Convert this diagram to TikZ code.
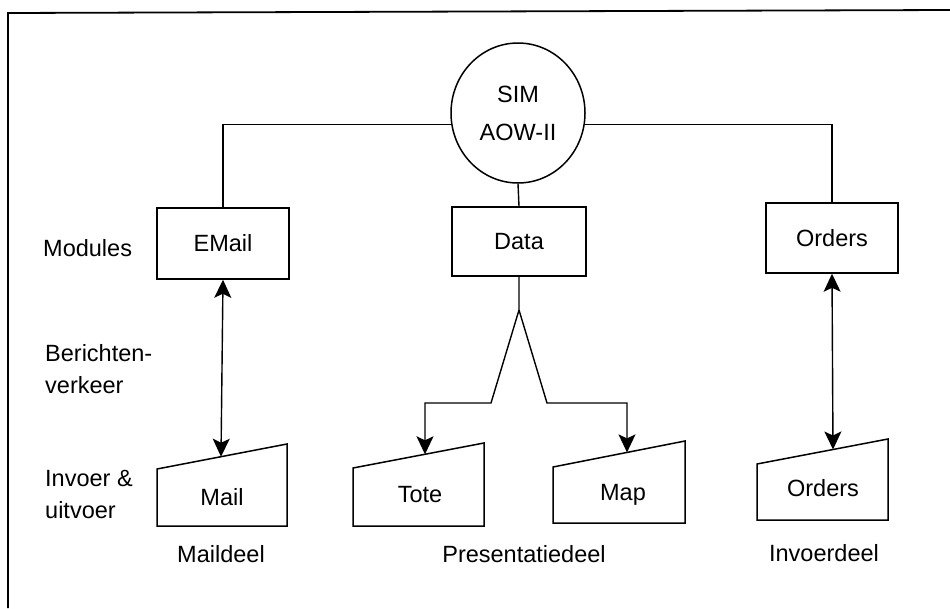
\documentclass[tikz,border=0pt]{standalone}
\usepackage{fontspec}
\setmainfont{Liberation Sans}
\usetikzlibrary{shapes.geometric,arrows.meta,calc}
\begin{document}
\begin{tikzpicture}[x=1pt,y=-1pt,
  txt/.style={font=\fontsize{23.5}{32}\selectfont, inner sep=0pt},
  modbox/.style={draw, line width=1.5pt, rectangle, inner sep=0pt, font=\fontsize{23.5}{32}\selectfont},
  simcircle/.style={draw, line width=1.5pt, ellipse, inner sep=0pt, minimum width=134pt, minimum height=140pt, align=center, font=\fontsize{23.5}{38}\selectfont},
  conn/.style={line width=1.4pt},
  arrowone/.style={line width=1.4pt, -{Stealth[length=18pt,width=17pt,inset=4pt]}},
  arrowtwo/.style={line width=1.4pt, {Stealth[length=18pt,width=17pt,inset=4pt]}-{Stealth[length=18pt,width=17pt,inset=4pt]}},
  shapeline/.style={line width=1.5pt}
]
\useasboundingbox (0,0) rectangle (950,608);
\fill[white] (0,0) rectangle (950,608);
% frame
\draw[line width=1.8pt] (8,608) -- (8,13) -- (950,10);

% central node
\node[simcircle] (sim) at (518,113) {SIM\\AOW-II};

% module boxes
\node[modbox, minimum width=132pt, minimum height=71pt] (email) at (223,243.5) {EMail};
\node[modbox, minimum width=134pt, minimum height=69pt] (data) at (519,241.5) {Data};
\node[modbox, minimum width=132pt, minimum height=70pt] (orders) at (832,238) {Orders};

% I/O shapes (sloped top)
\draw[shapeline] (157,469) -- (287,444) -- (287,526) -- (157,526) -- cycle;
\node[txt] (mail) at (222,497) {Mail};
\coordinate (mailin) at (221,456.7);

\draw[shapeline] (353,468) -- (484,443) -- (484,526) -- (353,526) -- cycle;
\node[txt] (tote) at (420,495) {Tote};
\coordinate (totein) at (425,454.3);

\draw[shapeline] (553,467) -- (685,441) -- (685,523) -- (553,523) -- cycle;
\node[txt] (map) at (623,495) {Map};
\coordinate (mapin) at (627,452.4);

\draw[shapeline] (757,464) -- (888,439) -- (888,520) -- (757,520) -- cycle;
\node[txt] (ordersio) at (823,488) {Orders};
\coordinate (ordersin) at (833,449.5);

% connectors from the central node
\draw[conn] (sim.190) -| (email.north);
\draw[conn] (sim.-10) -| (orders.north);
\draw[conn] (sim.south) -- (data.north);

% message traffic
\draw[arrowtwo] (email.south) -- (mailin);
\draw[arrowtwo] (orders.south) -- (ordersin);

\coordinate (apex) at (519,310);
\coordinate (forkl) at (491,403);
\coordinate (forkr) at (547,403);
\draw[arrowone] (data.south) -- (apex) -- (forkl) -| (totein);
\draw[arrowone] (apex) -- (forkr) -| (mapin);

% row labels
\node[txt, anchor=west] (modules) at (43,248) {Modules};
\node[txt, anchor=west] (ber1) at (45,353) {Berichten-};
\node[txt, anchor=west] (ber2) at (45,385) {verkeer};
\node[txt, anchor=west] (inv1) at (45,478) {Invoer \&};
\node[txt, anchor=west] (inv2) at (45,510) {uitvoer};

% column labels
\node[txt] (maildeel) at (221,554) {Maildeel};
\node[txt] (presdeel) at (524,554) {Presentatiedeel};
\node[txt] (invdeel) at (824,553) {Invoerdeel};
\end{tikzpicture}
\end{document}
